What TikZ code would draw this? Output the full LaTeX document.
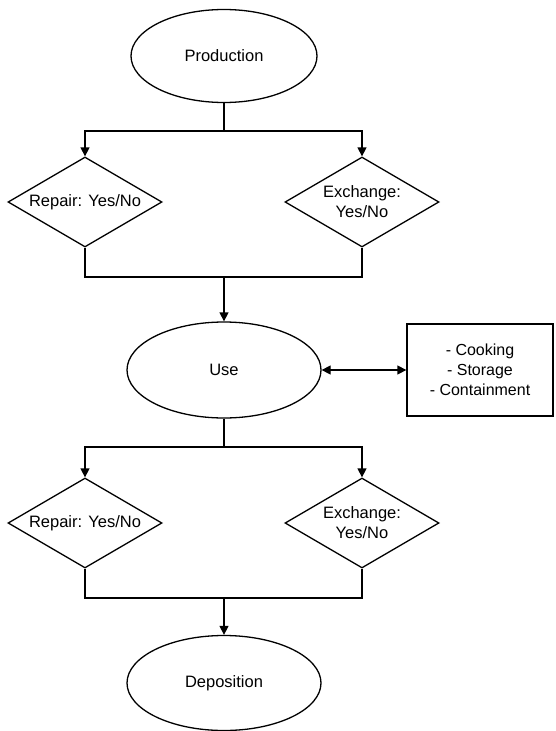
\documentclass[tikz,border=0pt]{standalone}
\usepackage{fontspec}
\setmainfont{Liberation Sans}
\usetikzlibrary{shapes.geometric,arrows.meta}
\begin{document}
\begin{tikzpicture}[x=1pt,y=-1pt,
  line width=1.3pt,
  txt/.style={font=\fontsize{16.5}{20}\selectfont, align=center, inner sep=0pt},
  ell/.style={draw, ellipse, inner sep=0pt, font=\fontsize{16.5}{20}\selectfont},
  dia/.style={draw, diamond, inner sep=0pt, minimum width=154pt, minimum height=90pt},
  boxnode/.style={draw, rectangle, inner sep=0pt, minimum width=146pt, minimum height=92pt, align=center, font=\fontsize{16}{20}\selectfont},
  arr/.style={-{Triangle[length=9pt,width=9pt]}},
  darr/.style={{Triangle[length=9pt,width=9pt]}-{Triangle[length=9pt,width=9pt]}}
]
\useasboundingbox (0,0) rectangle (556,731);

\node[ell, minimum width=186pt, minimum height=93pt] (prod) at (224,56) {Production};

\node[dia, label={[txt]center:Repair: Yes/No}] (d1) at (85,202) {};
\node[dia, label={[txt]center:Exchange:\\Yes/No}] (d2) at (362,202) {};

\node[ell, minimum width=194pt, minimum height=96pt] (use) at (224,370) {Use};
\node[boxnode] (box) at (480,370) {- Cooking\\- Storage\\- Containment};

\node[dia, label={[txt]center:Repair: Yes/No}] (d3) at (85,523) {};
\node[dia, label={[txt]center:Exchange:\\Yes/No}] (d4) at (362,523) {};

\node[ell, minimum width=194pt, minimum height=95pt] (dep) at (224,683) {Deposition};

\coordinate (j1) at (224,131);
\coordinate (j2) at (224,277);
\coordinate (j3) at (224,447);
\coordinate (j4) at (224,598);

\draw (prod.south) -- (j1);
\draw[arr] (j1) -| (d1.north);
\draw[arr] (j1) -| (d2.north);
\draw (d1.south) |- (j2);
\draw (d2.south) |- (j2);
\draw[arr] (j2) -- (use.north);

\draw[darr] (use.east) -- (box.west);

\draw (use.south) -- (j3);
\draw[arr] (j3) -| (d3.north);
\draw[arr] (j3) -| (d4.north);
\draw (d3.south) |- (j4);
\draw (d4.south) |- (j4);
\draw[arr] (j4) -- (dep.north);
\end{tikzpicture}
\end{document}
